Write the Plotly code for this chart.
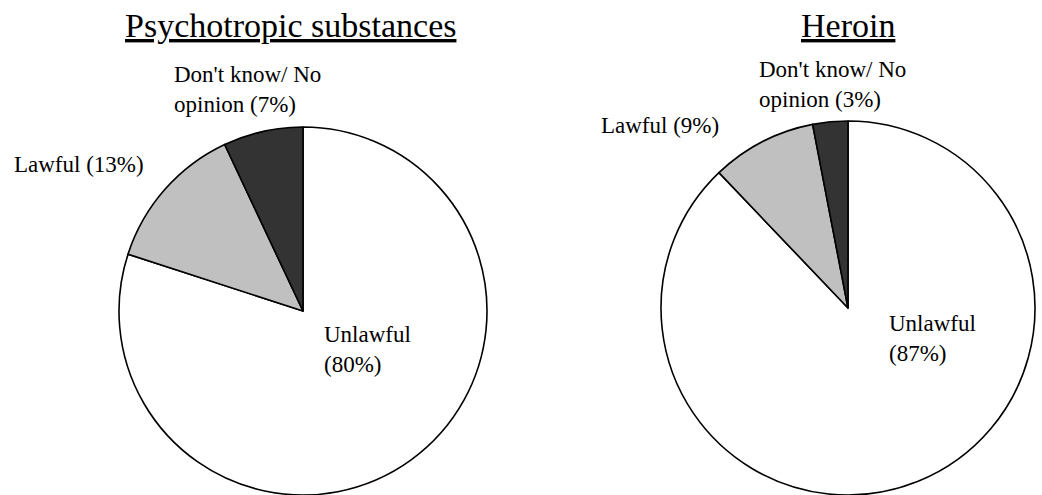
import plotly.graph_objects as go

# ---- data ----
categories = ["Unlawful", "Lawful", "Don't know/ No opinion"]
psychotropic_pct = [80, 13, 7]
heroin_pct = [87, 9, 3]
chart_titles = ["Psychotropic substances", "Heroin"]

# ---- style ----
W, H = 1042, 495
FONT = "Liberation Serif"
slice_colors = ["#FFFFFF", "#C0C0C0", "#333333"]


def px_x(x):
    return x / W


def px_y(y):
    return 1 - y / H


def label_text(cat, v):
    if cat == "Unlawful":
        return f"{cat}<br>({v}%)"
    if cat.startswith("Don't know"):
        a, b = cat.split(" No ")
        return f"{a} No<br>{b} ({v}%)"
    return f"{cat} ({v}%)"


fig = go.Figure()

pies = [
    # values, x-domain px, y-domain px (top, bottom)
    (psychotropic_pct, (119, 487), (127, 495)),
    (heroin_pct, (661, 1035), (121, 495)),
]
for vals, (x0, x1), (yt, yb) in pies:
    fig.add_trace(go.Pie(
        labels=categories,
        values=vals,
        sort=False,
        direction="clockwise",
        rotation=0,
        textinfo="none",
        hoverinfo="label+percent",
        marker=dict(colors=slice_colors, line=dict(color="black", width=1.6)),
        domain=dict(x=[px_x(x0), px_x(x1)], y=[px_y(yb), px_y(yt)]),
        showlegend=False,
    ))

annotations = []
# titles (center x, top y in px)
for title, cx in zip(chart_titles, [290, 848]):
    annotations.append(dict(
        text=f"<u>{title}</u>", x=px_x(cx), y=px_y(5),
        xref="paper", yref="paper", xanchor="center", yanchor="top",
        showarrow=False, font=dict(family=FONT, size=34, color="black"),
    ))

# slice labels: (x left, first-baseline y) in px for each category
label_pos = [
    [(322, 342), (12, 172), (172, 82)],
    [(887, 331), (599, 133), (757, 77)],
]
for vals, positions in zip([psychotropic_pct, heroin_pct], label_pos):
    for cat, v, (lx, ly) in zip(categories, vals, positions):
        annotations.append(dict(
            text=label_text(cat, v), x=px_x(lx), y=px_y(ly - 22),
            xref="paper", yref="paper", xanchor="left", yanchor="top",
            align="left", showarrow=False,
            font=dict(family=FONT, size=23, color="black"),
        ))

fig.update_layout(
    width=W, height=H,
    margin=dict(l=0, r=0, t=0, b=0),
    paper_bgcolor="white",
    plot_bgcolor="white",
    annotations=annotations,
    showlegend=False,
)

fig.write_html("out.html")
